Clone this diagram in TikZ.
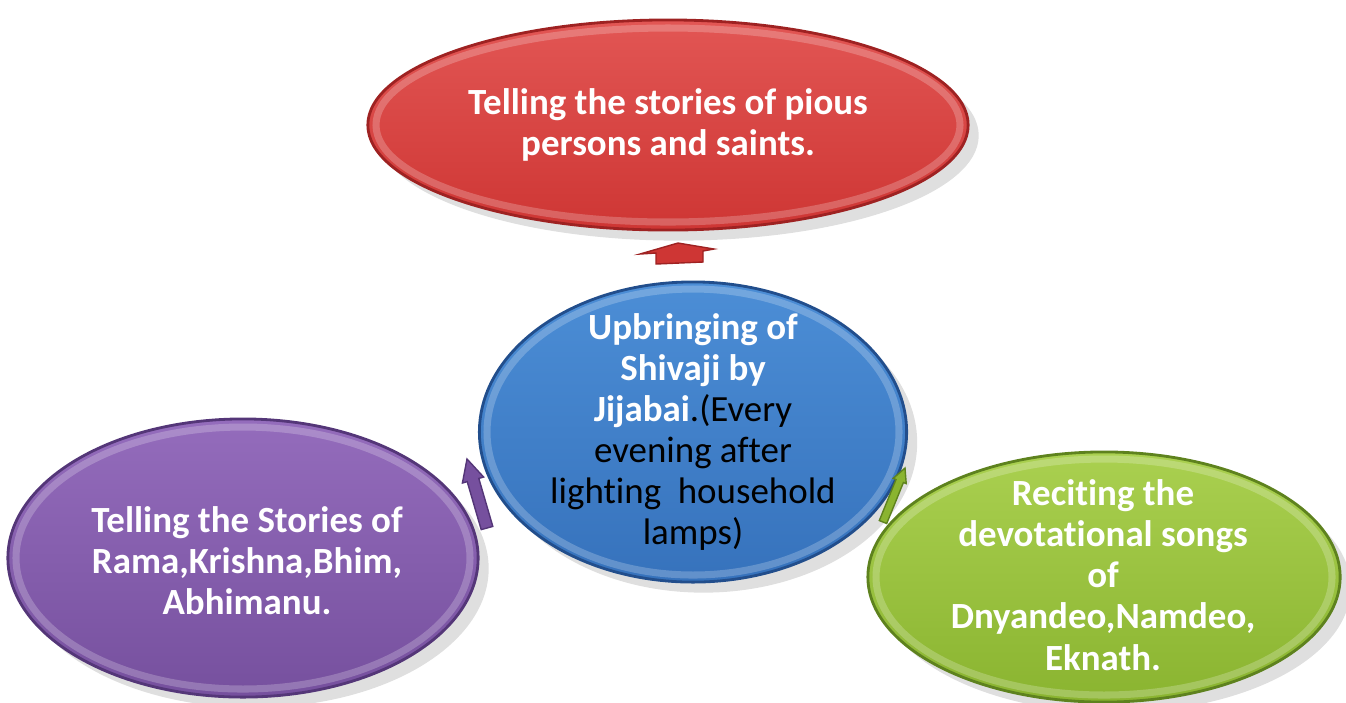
\documentclass[tikz,border=0pt]{standalone}
\usepackage{fontspec}
\setmainfont{Carlito}[Ligatures=NoCommon]
\usetikzlibrary{shapes.geometric,shadows}
\definecolor{redA}{RGB}{226,86,84}
\definecolor{redB}{RGB}{206,54,52}
\definecolor{redD}{RGB}{158,34,34}
\definecolor{blueA}{RGB}{76,142,214}
\definecolor{blueB}{RGB}{54,114,188}
\definecolor{blueD}{RGB}{34,78,140}
\definecolor{purA}{RGB}{148,108,188}
\definecolor{purB}{RGB}{118,80,158}
\definecolor{purD}{RGB}{84,54,120}
\definecolor{grnA}{RGB}{170,208,80}
\definecolor{grnB}{RGB}{138,180,48}
\definecolor{grnD}{RGB}{94,130,30}
\begin{document}
\begin{tikzpicture}[x=0.01cm,y=-0.01cm,
  bubble/.style={ellipse, inner sep=0pt, line width=0.8pt,
    drop shadow={shadow xshift=3pt, shadow yshift=-3pt, opacity=0.25}},
  ring/.style={white, opacity=0.22, line width=2pt},
  wtext/.style={text=white, align=center, font=\bfseries\fontsize{10.5}{11.7}\selectfont},
  btext/.style={text=black, align=center, font=\fontsize{10.5}{11.7}\selectfont},
  arrowshape/.style={line width=0.4pt}
]
\useasboundingbox (0,0) rectangle (1346,702);

% red
\node[bubble, minimum width=6cm, minimum height=2.1cm, top color=redA, bottom color=redB, draw=redD] (red) at (668,125) {};
\draw[ring] (red.center) ellipse [x radius=292, y radius=97];
\node[wtext] (redtxt) at (red.center) {Telling the stories of pious\\persons and saints.};

% blue
\node[bubble, minimum width=4.27cm, minimum height=3.0cm, top color=blueA, bottom color=blueB, draw=blueD] (blue) at (693,432) {};
\draw[ring] (blue.center) ellipse [x radius=206, y radius=143];
\node[btext] (bluetxt) at (blue.center) {{\color{white}\bfseries Upbringing of}\\
{\color{white}\bfseries Shivaji by}\\
{\color{white}\bfseries Jijabai}.(Every\\
evening after\\
lighting\ \ household\\
lamps)};

% purple
\node[bubble, minimum width=4.7cm, minimum height=2.78cm, top color=purA, bottom color=purB, draw=purD] (purple) at (243,558) {};
\draw[ring] (purple.center) ellipse [x radius=227, y radius=131];
\node[wtext] (purtxt) at (247,561) {Telling the Stories of\\Rama,Krishna,Bhim,\\Abhimanu.};

% green
\node[bubble, minimum width=4.72cm, minimum height=2.5cm, top color=grnA, bottom color=grnB, draw=grnD] (green) at (1104,577) {};
\draw[ring] (green.center) ellipse [x radius=228, y radius=118];
\node[wtext] (grntxt) at (1103,575) {Reciting the\\devotational songs\\of\\Dnyandeo,Namdeo,\\Eknath.};

% arrows (cycle markers)
\fill[redB, draw=redD, arrowshape] (656,264) -- (703,262) -- (703,251) -- (714,249) -- (678,243) -- (640,254) -- (656,253) -- cycle;
\fill[purB, draw=purD, arrowshape] (467,459) -- (483.6,477) -- (478.8,478.4) -- (492.8,526.4) -- (481.2,529.6) -- (467.2,481.6) -- (462.4,483) -- cycle;
\fill[grnB, draw=grnD, arrowshape] (905,468) -- (906.2,483.6) -- (903.4,482.5) -- (886.7,523.5) -- (879.3,520.5) -- (896,479.5) -- (893.2,478.4) -- cycle;
\end{tikzpicture}
\end{document}
